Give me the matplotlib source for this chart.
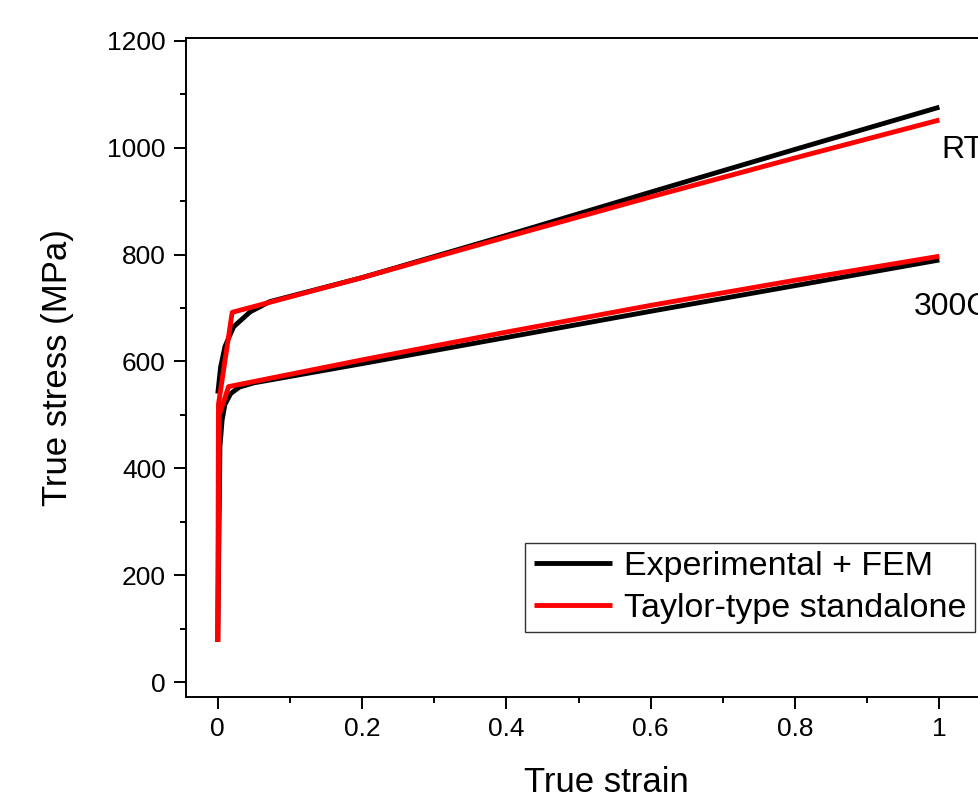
import matplotlib
matplotlib.use("Agg")

import matplotlib.pyplot as plt
from matplotlib.ticker import MultipleLocator

# Experimental + FEM (black), room temperature
exp_rt_strain = [0.0, 0.004, 0.010, 0.022, 0.045, 0.072, 0.2, 0.4, 0.6, 0.8, 1.0]
exp_rt_stress = [540, 590, 628, 665, 693, 712, 757, 836, 917, 997, 1076]

# Experimental + FEM (black), 300C
exp_300_strain = [0.0, 0.003, 0.006, 0.010, 0.018, 0.030, 0.050, 0.2, 0.4, 0.6, 0.8, 1.0]
exp_300_stress = [75, 440, 490, 520, 540, 552, 560, 596, 645, 694, 742, 790]

# Taylor-type standalone (red)
tay_rt_strain = [0.0, 0.001, 0.020, 0.2, 0.4, 0.6, 0.8, 1.0]
tay_rt_stress = [75, 520, 692, 757, 833, 908, 981, 1052]

tay_300_strain = [0.0, 0.002, 0.015, 0.2, 0.4, 0.6, 0.8, 1.0]
tay_300_stress = [75, 500, 553, 603, 655, 705, 752, 797]

plt.rcParams["font.family"] = ["Liberation Sans", "DejaVu Sans"]

fig = plt.figure(figsize=(9.79, 8.09), dpi=100)
ax = fig.add_axes([0.190, 0.1384, 0.858, 0.815])

lw = 3.5
ax.plot(exp_300_strain, exp_300_stress, color="black", lw=lw,
        solid_capstyle="butt")
ax.plot(exp_rt_strain, exp_rt_stress, color="black", lw=lw,
        solid_capstyle="butt", label="Experimental + FEM")
ax.plot(tay_300_strain, tay_300_stress, color="red", lw=lw,
        solid_capstyle="butt")
ax.plot(tay_rt_strain, tay_rt_stress, color="red", lw=lw,
        solid_capstyle="butt", label="Taylor-type standalone")

ax.text(1.003, 996, "RT", fontsize=23, va="center", ha="left")
ax.text(0.964, 702, "300C", fontsize=23, va="center", ha="left")

ax.set_xlim(-0.044, 1.12)
ax.set_ylim(-28, 1206)
ax.xaxis.set_major_locator(MultipleLocator(0.2))
ax.xaxis.set_minor_locator(MultipleLocator(0.1))
ax.yaxis.set_major_locator(MultipleLocator(200))
ax.yaxis.set_minor_locator(MultipleLocator(100))
ax.set_xticks([0, 0.2, 0.4, 0.6, 0.8, 1.0])
ax.set_xticklabels(["0", "0.2", "0.4", "0.6", "0.8", "1"])

ax.tick_params(which="major", length=8.5, width=1.4, labelsize=19,
               direction="out", pad=6)
ax.tick_params(which="minor", length=4, width=1.4, direction="out")
for sp in ax.spines.values():
    sp.set_linewidth(1.4)

ax.set_xlabel("True strain", fontsize=25, labelpad=18)
ax.set_ylabel("True stress (MPa)", fontsize=25, labelpad=24)

leg = ax.legend(loc="upper right", bbox_to_anchor=(0.996, 0.329),
                bbox_transform=fig.transFigure, fontsize=24.5,
                frameon=True, fancybox=False, handlelength=2.3,
                handletextpad=0.35, borderpad=0.25, labelspacing=0.3,
                borderaxespad=0)
leg.get_frame().set_edgecolor("black")
leg.get_frame().set_linewidth(1.0)

fig.savefig("out.png", dpi=100)
